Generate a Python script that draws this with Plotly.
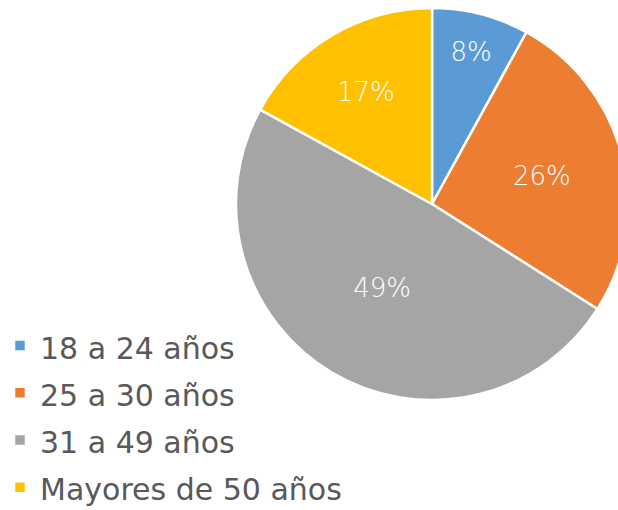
import plotly.graph_objects as go

categories = ["18 a 24 años", "25 a 30 años", "31 a 49 años", "Mayores de 50 años"]
values = [8, 26, 49, 17]
colors = ["#5B9BD5", "#ED7D31", "#A5A5A5", "#FFC000"]

W, H = 640, 510

legend_labels = ['<span style="font-size:30px">%s</span>' % c for c in categories]

fig = go.Figure(go.Pie(
    labels=legend_labels,
    values=values,
    sort=False,
    direction="clockwise",
    rotation=0,
    marker=dict(colors=colors, line=dict(color="white", width=2.5)),
    textinfo="percent",
    texttemplate="%{percent:.0%}",
    textposition="inside",
    insidetextorientation="horizontal",
    insidetextfont=dict(color="white", size=26, family="DejaVu Sans", weight=300),
    domain=dict(x=[236 / W, 628 / W], y=[1 - 400 / H, 1 - 8 / H]),
    hoverinfo="percent",
))

fig.update_layout(
    width=W, height=H,
    margin=dict(l=0, r=0, t=0, b=0, autoexpand=False),
    paper_bgcolor="white",
    plot_bgcolor="white",
    showlegend=True,
    legend=dict(
        x=0.0, y=1 - 317 / H, xanchor="left", yanchor="top",
        font=dict(family="DejaVu Sans", size=34, color="#595959"),
        bgcolor="rgba(0,0,0,0)",
    ),
)

fig.write_html(
    "out.html",
    config={"displayModeBar": False},
    post_script=(
        "document.body.style.margin='0';"
        "document.body.style.overflow='hidden';"
        "document.documentElement.style.overflow='hidden';"
    ),
)
